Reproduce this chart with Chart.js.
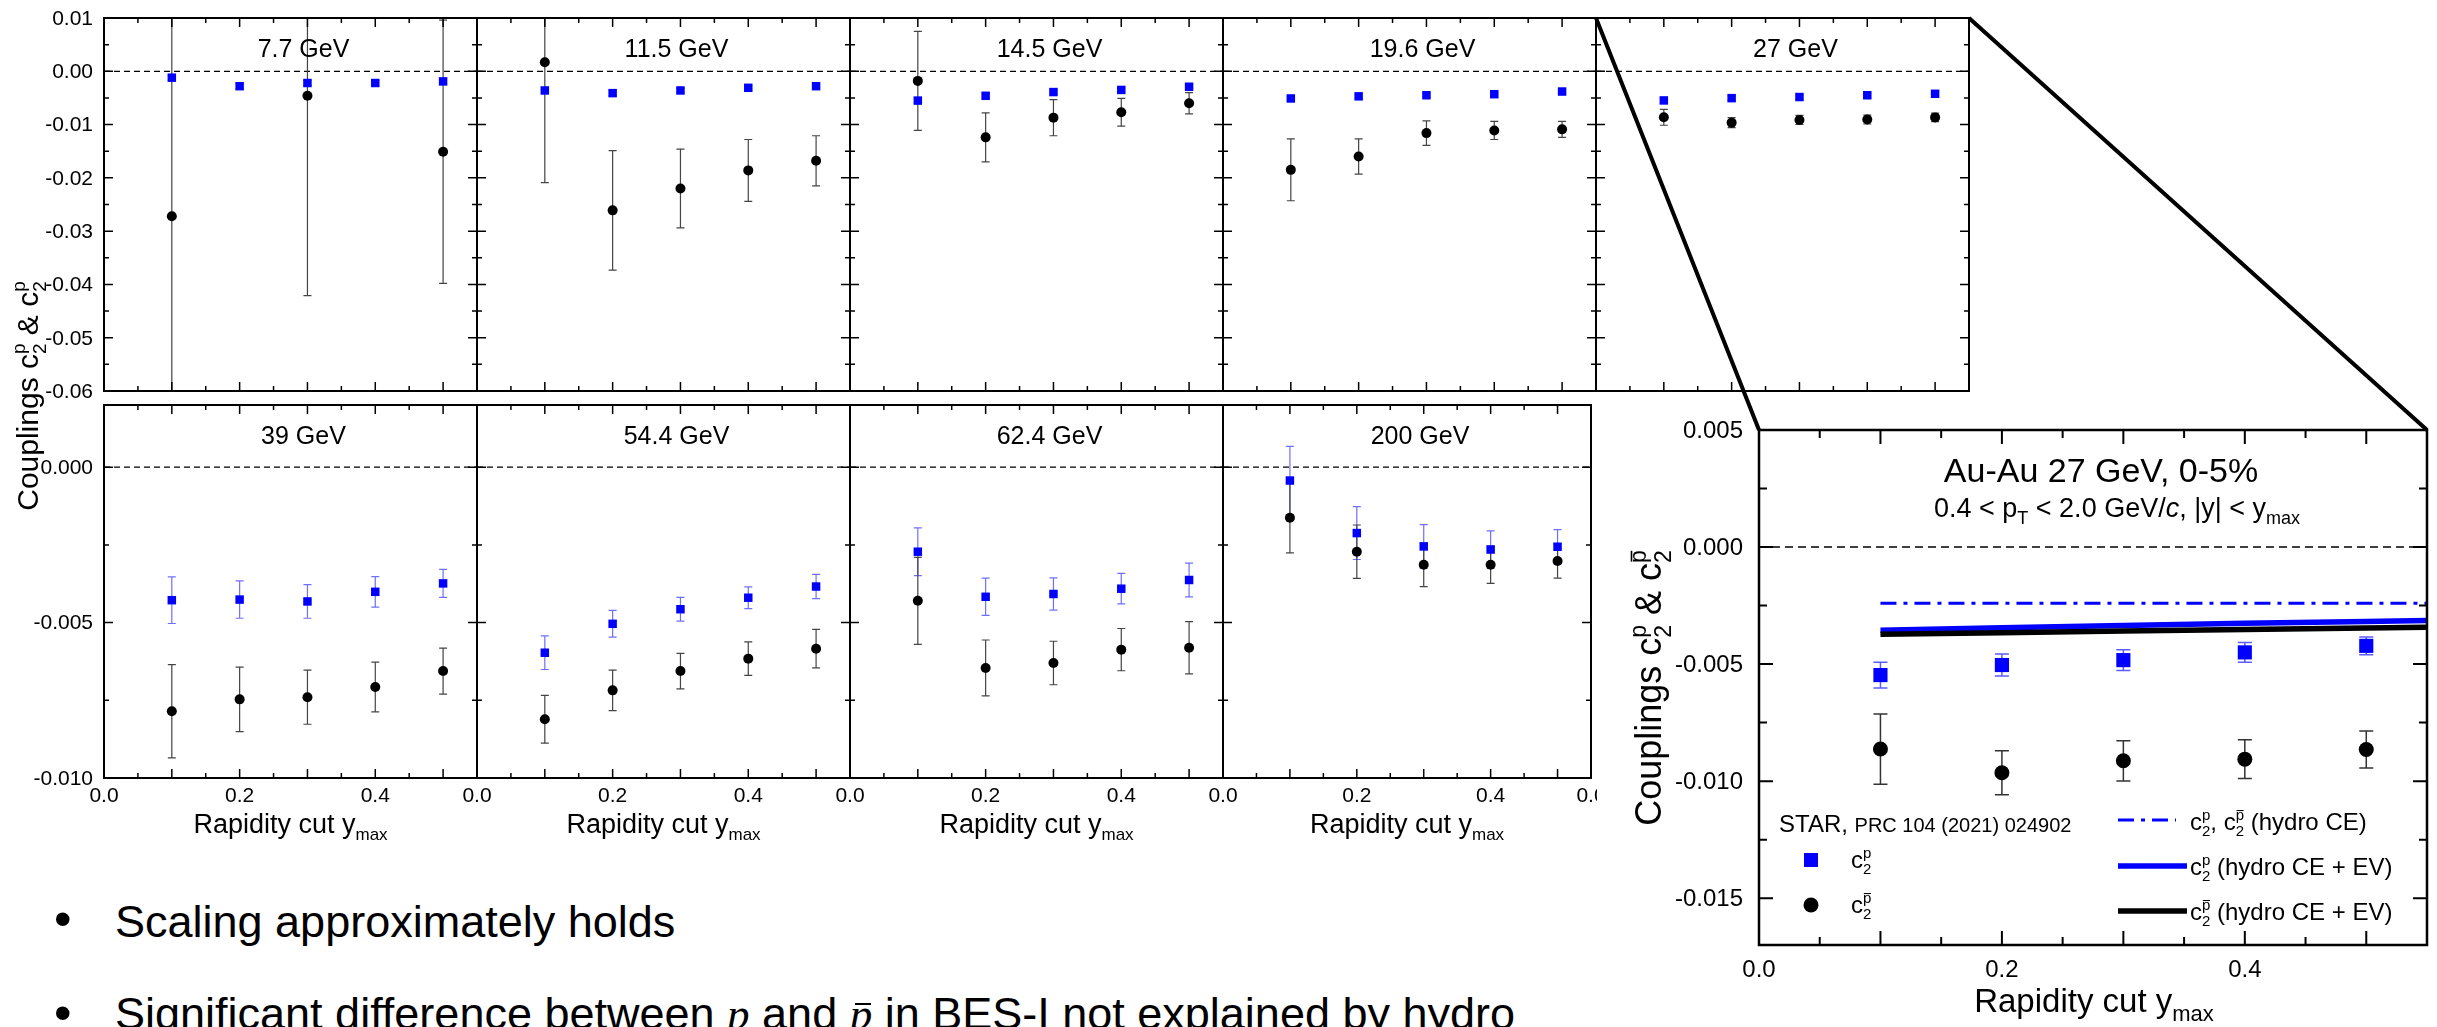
<!DOCTYPE html>
<html>
<head>
<meta charset="utf-8">
<script src="https://cdn.jsdelivr.net/npm/chart.js@4.4.1/dist/chart.umd.min.js"></script>
<style>
  html, body { margin: 0; padding: 0; background: #fff; width: 2437px; height: 1027px; overflow: hidden; position: relative; }
  canvas.panel { position: absolute; }
  #links { position: absolute; left: 0; top: 0; pointer-events: none; }
  .bul { position: absolute; font-family: 'Liberation Sans', Arial, Helvetica, sans-serif; white-space: nowrap; color: #000; }
  .txt { font-size: 45px; line-height: 45px; }
  .dot { font-size: 50px; line-height: 50px; }
  .mp { font-family: 'Liberation Serif', 'DejaVu Serif', serif; font-style: italic; }
  .pb { position: relative; display: inline-block; }
  .pb::after { content: ''; position: absolute; left: 5px; right: 1px; top: 12px; border-top: 2px solid #000; }
</style>
</head>
<body>
<div class="bul dot" style="left:54px; top:894px">•</div>
<div class="bul txt" style="left:115px; top:899px">Scaling approximately holds</div>
<div class="bul dot" style="left:54px; top:988px">•</div>
<div class="bul txt" style="left:115px; top:991px">Significant difference between <span class="mp">p</span> and <span class="pb"><span class="mp">p</span></span> in BES-I not explained by hydro</div>

<script>
const FONT = "'Liberation Sans', Arial, Helvetica, sans-serif";

// ---- data -------------------------------------------------------------
// rapidity cut y_max, shared by every panel
const yMax = [0.1, 0.2, 0.3, 0.4, 0.5];

const energyLabels = ['7.7 GeV', '11.5 GeV', '14.5 GeV', '19.6 GeV', '27 GeV',
                      '39 GeV', '54.4 GeV', '62.4 GeV', '200 GeV'];

// c2^p (protons) and c2^pbar (antiprotons), with their uncertainties
const c2p_7p7        = [-0.0012, -0.0028, -0.0022, -0.0022, -0.0019];
const c2pErr_7p7     = [0.0005, 0.0005, 0.0005, 0.0005, 0.0005];
const c2pbar_7p7     = [-0.0272, null, -0.0046, null, -0.0151];
const c2pbarErr_7p7  = [0.0400, null, 0.0375, null, 0.0247];

const c2p_11p5       = [-0.0036, -0.0041, -0.0036, -0.0031, -0.0028];
const c2pErr_11p5    = [0.0005, 0.0005, 0.0004, 0.0004, 0.0004];
const c2pbar_11p5    = [0.0017, -0.0261, -0.0220, -0.0186, -0.0168];
const c2pbarErr_11p5 = [0.0226, 0.0112, 0.0074, 0.0058, 0.0047];

const c2p_14p5       = [-0.0055, -0.0046, -0.0039, -0.0035, -0.0029];
const c2pErr_14p5    = [0.0005, 0.0004, 0.0004, 0.0004, 0.0004];
const c2pbar_14p5    = [-0.0018, -0.0124, -0.0087, -0.0077, -0.0060];
const c2pbarErr_14p5 = [0.0093, 0.0046, 0.0034, 0.0026, 0.0020];

const c2p_19p6       = [-0.0051, -0.0047, -0.0045, -0.0043, -0.0038];
const c2pErr_19p6    = [0.0004, 0.0004, 0.0004, 0.0004, 0.0004];
const c2pbar_19p6    = [-0.0185, -0.0160, -0.0116, -0.0111, -0.0109];
const c2pbarErr_19p6 = [0.0058, 0.0033, 0.0023, 0.0017, 0.0015];

const c2p_27         = [-0.00547, -0.00504, -0.00483, -0.00450, -0.00422];
const c2pErr_27      = [0.00055, 0.00047, 0.00044, 0.00042, 0.00038];
const c2pbar_27      = [-0.00863, -0.00964, -0.00913, -0.00906, -0.00865];
const c2pbarErr_27   = [0.00150, 0.00094, 0.00086, 0.00083, 0.00079];

const c2p_39         = [-0.00428, -0.00426, -0.00432, -0.00401, -0.00374];
const c2pErr_39      = [0.00075, 0.00060, 0.00054, 0.00049, 0.00045];
const c2pbar_39      = [-0.00785, -0.00747, -0.00740, -0.00707, -0.00656];
const c2pbarErr_39   = [0.00150, 0.00104, 0.00087, 0.00080, 0.00074];

const c2p_54p4       = [-0.00597, -0.00504, -0.00457, -0.00420, -0.00384];
const c2pErr_54p4    = [0.00054, 0.00043, 0.00038, 0.00035, 0.00039];
const c2pbar_54p4    = [-0.00811, -0.00718, -0.00656, -0.00616, -0.00584];
const c2pbarErr_54p4 = [0.00077, 0.00065, 0.00057, 0.00054, 0.00062];

const c2p_62p4       = [-0.00272, -0.00417, -0.00408, -0.00391, -0.00363];
const c2pErr_62p4    = [0.00077, 0.00060, 0.00052, 0.00049, 0.00054];
const c2pbar_62p4    = [-0.00430, -0.00646, -0.00630, -0.00587, -0.00581];
const c2pbarErr_62p4 = [0.00140, 0.00090, 0.00070, 0.00068, 0.00084];

const c2p_200        = [-0.00043, -0.00212, -0.00255, -0.00265, -0.00256];
const c2pErr_200     = [0.00110, 0.00085, 0.00070, 0.00060, 0.00055];
const c2pbar_200     = [-0.00163, -0.00272, -0.00314, -0.00314, -0.00302];
const c2pbarErr_200  = [0.00113, 0.00086, 0.00070, 0.00060, 0.00055];

// hydro curves for Au-Au 27 GeV 0-5%
const hydroX      = [0.1, 0.2, 0.3, 0.4, 0.5, 0.6];
const hydroCE     = [-0.0024, -0.0024, -0.0024, -0.0024, -0.0024, -0.0024];
const hydroEvP    = [-0.00355, -0.00345, -0.00335, -0.00326, -0.00318, -0.00310];
const hydroEvPbar = [-0.00373, -0.00366, -0.00359, -0.00352, -0.00346, -0.00340];

// tick labels
const topRowYTicks    = [0.01, 0.00, -0.01, -0.02, -0.03, -0.04, -0.05, -0.06];
const bottomRowYTicks = [0.000, -0.005, -0.010];
const insetYTicks     = [0.005, 0.000, -0.005, -0.010, -0.015];
const xTickLabels     = [0.0, 0.2, 0.4];

const panelData = [
  { label: energyLabels[0], p: c2p_7p7,  pErr: c2pErr_7p7,  pbar: c2pbar_7p7,  pbarErr: c2pbarErr_7p7 },
  { label: energyLabels[1], p: c2p_11p5, pErr: c2pErr_11p5, pbar: c2pbar_11p5, pbarErr: c2pbarErr_11p5 },
  { label: energyLabels[2], p: c2p_14p5, pErr: c2pErr_14p5, pbar: c2pbar_14p5, pbarErr: c2pbarErr_14p5 },
  { label: energyLabels[3], p: c2p_19p6, pErr: c2pErr_19p6, pbar: c2pbar_19p6, pbarErr: c2pbarErr_19p6 },
  { label: energyLabels[4], p: c2p_27,   pErr: c2pErr_27,   pbar: c2pbar_27,   pbarErr: c2pbarErr_27 },
  { label: energyLabels[5], p: c2p_39,   pErr: c2pErr_39,   pbar: c2pbar_39,   pbarErr: c2pbarErr_39 },
  { label: energyLabels[6], p: c2p_54p4, pErr: c2pErr_54p4, pbar: c2pbar_54p4, pbarErr: c2pbarErr_54p4 },
  { label: energyLabels[7], p: c2p_62p4, pErr: c2pErr_62p4, pbar: c2pbar_62p4, pbarErr: c2pbarErr_62p4 },
  { label: energyLabels[8], p: c2p_200,  pErr: c2pErr_200,  pbar: c2pbar_200,  pbarErr: c2pbarErr_200 }
];

// ---- rich text helpers (sub/superscripts) ------------------------------
function itemWidth(ctx, it) {
  if (it.stack) return Math.max(...it.stack.map(s => itemWidth(ctx, s)));
  ctx.font = (it.italic ? 'italic ' : '') + it.size + 'px ' + FONT;
  return ctx.measureText(it.text).width;
}
function drawItem(ctx, it, x, y) {
  if (it.stack) { it.stack.forEach(s => drawItem(ctx, s, x, y)); return; }
  ctx.font = (it.italic ? 'italic ' : '') + it.size + 'px ' + FONT;
  const yy = y + (it.dy || 0);
  ctx.fillText(it.text, x, yy);
  if (it.bar) {
    const w = ctx.measureText(it.text).width;
    ctx.fillRect(x + w * 0.1, yy - it.size * 0.66, w * 0.85, Math.max(1, it.size * 0.07));
  }
}
function drawRich(ctx, items, x, y, align) {
  const total = items.reduce((s, it) => s + itemWidth(ctx, it), 0);
  let cx = align === 'center' ? x - total / 2 : (align === 'right' ? x - total : x);
  ctx.textAlign = 'left';
  ctx.textBaseline = 'alphabetic';
  for (const it of items) { drawItem(ctx, it, cx, y); cx += itemWidth(ctx, it); }
}
// c_2 with a stacked superscript p (optionally barred)
function c2(size, bar) {
  const s = Math.round(size * 0.64);
  return [{ text: 'c', size },
          { stack: [{ text: 'p', size: s, dy: -size * 0.42, bar: !!bar },
                    { text: '2', size: s, dy: size * 0.27 }] }];
}

// ---- panel factory ------------------------------------------------------
function pts(vals, xs) { return (xs || yMax).map((x, i) => ({ x, y: vals[i] })); }

function makePanel(spec) {
  const c = document.createElement('canvas');
  const W = spec.width + spec.pad.l + spec.pad.r;
  const H = spec.height + spec.pad.t + spec.pad.b;
  c.width = W; c.height = H;
  c.className = 'panel';
  c.style.left = (spec.left - spec.pad.l) + 'px';
  c.style.top = (spec.top - spec.pad.t) + 'px';
  c.style.width = W + 'px';
  c.style.height = H + 'px';
  document.body.appendChild(c);

  const deco = {
    id: 'deco',
    beforeDatasetsDraw(chart) {
      const { ctx, chartArea: a, scales: { x, y } } = chart;
      ctx.save();
      ctx.beginPath();
      ctx.rect(a.left, a.top, a.right - a.left, a.bottom - a.top);
      ctx.clip();
      // zero reference line
      const y0 = y.getPixelForValue(0);
      ctx.strokeStyle = '#000';
      ctx.lineWidth = spec.zeroW;
      ctx.setLineDash(spec.zeroDash);
      ctx.beginPath(); ctx.moveTo(a.left, y0); ctx.lineTo(a.right, y0); ctx.stroke();
      ctx.setLineDash([]);
      // error bars
      chart.data.datasets.forEach(ds => {
        if (!ds.errors) return;
        ctx.strokeStyle = ds.errorColor;
        ctx.lineWidth = spec.errW;
        ds.data.forEach((p, i) => {
          const e = ds.errors[i];
          if (p.y == null || e == null) return;
          const px = x.getPixelForValue(p.x);
          const y1 = y.getPixelForValue(p.y + e), y2 = y.getPixelForValue(p.y - e);
          const h = spec.capW / 2;
          ctx.beginPath();
          ctx.moveTo(px, y1); ctx.lineTo(px, y2);
          ctx.moveTo(px - h, y1); ctx.lineTo(px + h, y1);
          ctx.moveTo(px - h, y2); ctx.lineTo(px + h, y2);
          ctx.stroke();
        });
      });
      ctx.restore();
    },
    afterDraw(chart) {
      const { ctx, chartArea: a, scales: { x, y } } = chart;
      ctx.save();
      ctx.strokeStyle = '#000';
      ctx.fillStyle = '#000';
      // inward ticks on all four sides
      ctx.lineWidth = spec.tickW;
      const ry = Math.round(spec.yMajor / spec.yMinor);
      const ny0 = Math.ceil(spec.yMin / spec.yMinor - 1e-6), ny1 = Math.floor(spec.yMax / spec.yMinor + 1e-6);
      ctx.beginPath();
      for (let n = ny0; n <= ny1; n++) {
        const py = y.getPixelForValue(n * spec.yMinor);
        const len = (n % ry === 0) ? spec.majLen : spec.minLen;
        ctx.moveTo(a.left, py); ctx.lineTo(a.left + len, py);
        ctx.moveTo(a.right, py); ctx.lineTo(a.right - len, py);
      }
      const rx = Math.round(spec.xMajor / spec.xMinor);
      const nx0 = Math.ceil(spec.xMin / spec.xMinor - 1e-6), nx1 = Math.floor(spec.xMax / spec.xMinor + 1e-6);
      for (let n = nx0; n <= nx1; n++) {
        const px = x.getPixelForValue(n * spec.xMinor);
        const len = (n % rx === 0) ? spec.majLen : spec.minLen;
        ctx.moveTo(px, a.bottom); ctx.lineTo(px, a.bottom - len);
        ctx.moveTo(px, a.top); ctx.lineTo(px, a.top + len);
      }
      ctx.stroke();
      // frame
      ctx.lineWidth = spec.frameW;
      ctx.strokeRect(a.left, a.top, a.right - a.left, a.bottom - a.top);
      // tick labels
      ctx.font = spec.labelSize + 'px ' + FONT;
      if (spec.yLabels) {
        ctx.textAlign = 'right'; ctx.textBaseline = 'middle';
        spec.yLabels.forEach(v => ctx.fillText(v.toFixed(spec.yDec), a.left - spec.yGap, y.getPixelForValue(v) + 1));
      }
      if (spec.xLabels) {
        ctx.textAlign = 'center'; ctx.textBaseline = 'middle';
        spec.xLabels.forEach(v => ctx.fillText(v.toFixed(1), x.getPixelForValue(v), a.bottom + spec.xGap));
        if (spec.edgeLabel) ctx.fillText(spec.edgeLabel, a.right, a.bottom + spec.xGap);
      }
      // panel title
      if (spec.title) {
        ctx.font = spec.titleSize + 'px ' + FONT;
        ctx.textAlign = 'center'; ctx.textBaseline = 'middle';
        ctx.fillText(spec.title, (a.left + a.right) / 2 + spec.titleDx, a.top + spec.titleDy);
      }
      if (spec.extra) spec.extra(ctx, a, chart);
      ctx.restore();
    }
  };

  const chart = new Chart(c, {
    type: 'scatter',
    data: { datasets: spec.datasets },
    options: {
      responsive: false,
      animation: false,
      devicePixelRatio: 1,
      events: [],
      layout: { padding: { left: spec.pad.l, right: spec.pad.r, top: spec.pad.t, bottom: spec.pad.b } },
      plugins: { legend: { display: false }, tooltip: { enabled: false } },
      scales: {
        x: { type: 'linear', min: spec.xMin, max: spec.xMax, display: false },
        y: { type: 'linear', min: spec.yMin, max: spec.yMax, display: false }
      }
    },
    plugins: [deco]
  });
  chart.pageOrigin = { x: spec.left - spec.pad.l, y: spec.top - spec.pad.t };
  return chart;
}

// ---- grid of energy panels ---------------------------------------------
const COLS = [104, 477, 850, 1223, 1596];
const ROWS = [18, 405];
const SIDE = 373;

function rapidityTitle(ctx, a, size, sub, dy, shift, base) {
  ctx.fillStyle = '#000';
  drawRich(ctx, [{ text: 'Rapidity cut y', size }, { text: 'max', size: sub, dy }],
           (a.left + a.right) / 2 + shift, a.bottom + base, 'center');
}

const charts = [];
panelData.forEach((d, i) => {
  const row = i < 5 ? 0 : 1;
  const col = row === 0 ? i : i - 5;
  const top = row === 0;
  const spec = {
    left: COLS[col], top: ROWS[row], width: SIDE, height: SIDE,
    pad: { l: col === 0 ? 104 : 30, r: (!top && col === 3) ? 1 : 30,
           t: top ? 18 : 14, b: top ? (col === 0 ? 140 : 10) : 70 },
    xMin: 0, xMax: 0.55, xMajor: 0.1, xMinor: 0.05,
    yMin: top ? -0.06 : -0.010, yMax: top ? 0.01 : 0.002,
    yMajor: top ? 0.01 : 0.005, yMinor: top ? 0.005 : 0.0025,
    majLen: 9, minLen: 5, frameW: 2, tickW: 1.5,
    yLabels: col === 0 ? (top ? topRowYTicks : bottomRowYTicks) : null,
    yDec: top ? 2 : 3, yGap: 11,
    xLabels: top ? null : xTickLabels, xGap: 18, labelSize: 21,
    edgeLabel: (!top && col === 3) ? '0.0' : null,
    title: d.label, titleSize: 25, titleDx: 13, titleDy: 32,
    zeroDash: [6, 4], zeroW: 1.2, errW: 1.2, capW: 8,
    datasets: [
      { label: 'c2p', data: pts(d.p), errors: d.pErr, errorColor: 'rgba(50,50,255,0.7)',
        pointStyle: 'rect', pointRadius: 6, backgroundColor: '#0000ff', pointBackgroundColor: '#0000ff',
        borderWidth: 0, pointBorderWidth: 0 },
      { label: 'c2pbar', data: pts(d.pbar), errors: d.pbarErr, errorColor: '#444',
        pointStyle: 'circle', pointRadius: 5, backgroundColor: '#000', pointBackgroundColor: '#000',
        borderWidth: 0, pointBorderWidth: 0 }
    ]
  };
  if (top && col === 0) {
    spec.extra = (ctx, a) => {
      ctx.save();
      ctx.translate(a.left - 77, a.bottom + 5);
      ctx.rotate(-Math.PI / 2);
      drawRich(ctx, [{ text: 'Couplings ', size: 30 }, ...c2(30), { text: ' & ', size: 30 }, ...c2(30)],
               0, 11, 'center');
      ctx.restore();
    };
  }
  if (!top) spec.extra = (ctx, a) => rapidityTitle(ctx, a, 27, 17, 7, 0, 55);
  charts.push(makePanel(spec));
});

// ---- enlarged 27 GeV panel with hydro comparison ------------------------
const inset = makePanel({
  left: 1759, top: 430, width: 668, height: 515,
  pad: { l: 159, r: 10, t: 20, b: 82 },
  xMin: 0, xMax: 0.55, xMajor: 0.1, xMinor: 0.05,
  yMin: -0.017, yMax: 0.005, yMajor: 0.005, yMinor: 0.0025,
  majLen: 14, minLen: 8, frameW: 2.5, tickW: 2,
  yLabels: insetYTicks, yDec: 3, yGap: 16,
  xLabels: xTickLabels, xGap: 25, labelSize: 24,
  title: null,
  zeroDash: [8, 5], zeroW: 1.5, errW: 1.5, capW: 14,
  datasets: [
    { label: 'c2p', data: pts(c2p_27), errors: c2pErr_27, errorColor: 'rgba(50,50,255,0.8)',
      pointStyle: 'rect', pointRadius: 10, backgroundColor: '#0000ff', pointBackgroundColor: '#0000ff',
      borderWidth: 0, pointBorderWidth: 0 },
    { label: 'c2pbar', data: pts(c2pbar_27), errors: c2pbarErr_27, errorColor: '#333',
      pointStyle: 'circle', pointRadius: 7.5, backgroundColor: '#000', pointBackgroundColor: '#000',
      borderWidth: 0, pointBorderWidth: 0 },
    { label: 'hydro CE', data: pts(hydroCE, hydroX), showLine: true, borderColor: '#0000ff',
      borderWidth: 3, borderDash: [16, 7, 4, 7], pointRadius: 0, fill: false },
    { label: 'hydro CE + EV pbar', data: pts(hydroEvPbar, hydroX), showLine: true, borderColor: '#000',
      borderWidth: 5.5, pointRadius: 0, fill: false },
    { label: 'hydro CE + EV p', data: pts(hydroEvP, hydroX), showLine: true, borderColor: '#0000ff',
      borderWidth: 5.5, pointRadius: 0, fill: false }
  ],
  extra: (ctx, a) => {
    const L = a.left, T = a.top;
    ctx.fillStyle = '#000';
    // heading
    ctx.font = '34px ' + FONT; ctx.textAlign = 'center'; ctx.textBaseline = 'alphabetic';
    ctx.fillText('Au-Au 27 GeV, 0-5%', (a.left + a.right) / 2 + 8, T + 52);
    drawRich(ctx, [{ text: '0.4 < p', size: 27 }, { text: 'T', size: 18, dy: 7 },
                   { text: ' < 2.0 GeV/', size: 27 }, { text: 'c', size: 27, italic: true },
                   { text: ', |y| < y', size: 27 }, { text: 'max', size: 18, dy: 7 }],
             (a.left + a.right) / 2 + 24, T + 87, 'center');
    // axis titles
    rapidityTitle(ctx, a, 33, 22, 9, 1, 67);
    ctx.save();
    ctx.translate(L - 111, T + 258);
    ctx.rotate(-Math.PI / 2);
    drawRich(ctx, [{ text: 'Couplings ', size: 36 }, ...c2(36), { text: ' & ', size: 36 }, ...c2(36, true)],
             0, 13, 'center');
    ctx.restore();
    // legend: data
    drawRich(ctx, [{ text: 'STAR, ', size: 24 }, { text: 'PRC 104 (2021) 024902', size: 20 }], L + 20, T + 402, 'left');
    ctx.fillStyle = '#0000ff';
    ctx.fillRect(L + 52 - 7, T + 430 - 7, 14, 14);
    ctx.fillStyle = '#000';
    ctx.beginPath(); ctx.arc(L + 52, T + 475, 7.5, 0, Math.PI * 2); ctx.fill();
    drawRich(ctx, c2(24), L + 92, T + 438, 'left');
    drawRich(ctx, c2(24, true), L + 92, T + 483, 'left');
    // legend: hydro curves
    ctx.lineWidth = 3; ctx.strokeStyle = '#0000ff'; ctx.setLineDash([16, 7, 4, 7]);
    ctx.beginPath(); ctx.moveTo(L + 359, T + 390); ctx.lineTo(L + 417, T + 390); ctx.stroke();
    ctx.setLineDash([]); ctx.lineWidth = 5.5;
    ctx.beginPath(); ctx.moveTo(L + 359, T + 436); ctx.lineTo(L + 428, T + 436); ctx.stroke();
    ctx.strokeStyle = '#000';
    ctx.beginPath(); ctx.moveTo(L + 359, T + 481); ctx.lineTo(L + 428, T + 481); ctx.stroke();
    drawRich(ctx, [...c2(24), { text: ', ', size: 24 }, ...c2(24, true), { text: ' (hydro CE)', size: 24 }], L + 431, T + 400, 'left');
    drawRich(ctx, [...c2(24), { text: ' (hydro CE + EV)', size: 24 }], L + 431, T + 445, 'left');
    drawRich(ctx, [...c2(24, true), { text: ' (hydro CE + EV)', size: 24 }], L + 431, T + 490, 'left');
  }
});

// ---- zoom connectors from the 27 GeV panel to its enlargement -----------
(function drawLinks() {
  const cv = document.createElement('canvas');
  cv.id = 'links'; cv.width = 2437; cv.height = 1027;
  document.body.appendChild(cv);
  const ctx = cv.getContext('2d');
  const src = charts[4], dst = inset;
  const s = src.chartArea, d = dst.chartArea;
  const so = src.pageOrigin, dO = dst.pageOrigin;
  ctx.strokeStyle = '#000'; ctx.lineWidth = 4;
  ctx.beginPath();
  ctx.moveTo(so.x + s.left, so.y + s.top); ctx.lineTo(dO.x + d.left, dO.y + d.top);
  ctx.moveTo(so.x + s.right, so.y + s.top); ctx.lineTo(dO.x + d.right, dO.y + d.top);
  ctx.stroke();
})();
</script>
</body>
</html>
